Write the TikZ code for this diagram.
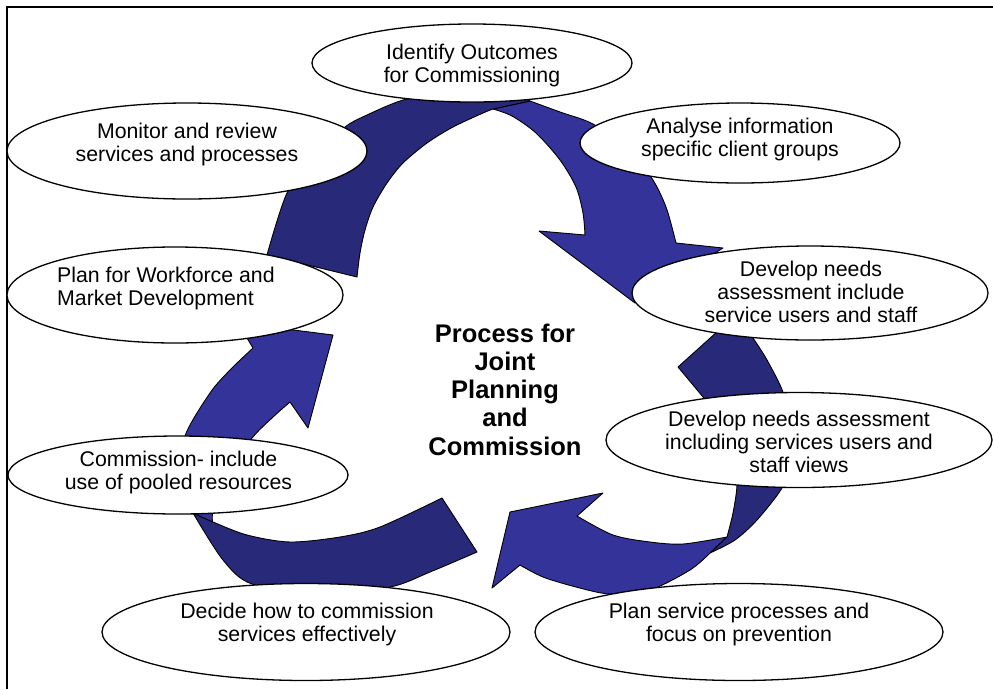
\documentclass[tikz,border=0pt]{standalone}
\usepackage{fontspec}
\setmainfont{Liberation Sans}
\usepackage{tikz}
\usetikzlibrary{shapes}
\definecolor{arrowlight}{RGB}{51,51,153}
\definecolor{arrowdark}{RGB}{41,41,122}
\tikzstyle{bubble} = [ellipse, draw=black, fill=white, line width=1.3pt, inner sep=0]
\tikzstyle{bubbletext} = [align=center, inner sep=0, font=\fontsize{21.3}{23}\selectfont]
\tikzstyle{heading} = [align=center, inner sep=0, font=\fontsize{25.5}{28.3}\selectfont\bfseries]
\tikzstyle{lightface} = [fill=arrowlight, draw=black, line width=0.9pt, line join=round]
\tikzstyle{darkface} = [fill=arrowdark, draw=black, line width=0.9pt, line join=round]

\begin{document}
\begin{tikzpicture}[x=1pt, y=-1pt]
				\useasboundingbox (0, 0) rectangle (993, 689);
				\draw[line width=1.4pt] (7, 689) -- (7, 7) -- (993, 7);

				% top arrow
				\filldraw[lightface] (493, 109) -- (530, 101)
					-- plot[smooth] coordinates {(530, 101) (560, 112) (593, 124) (625, 148) (651, 177) (666, 207) (676, 243)}
					-- (723, 248) -- (635, 303) -- (539, 231)
					-- plot[smooth] coordinates {(585, 235) (583, 213) (576, 187) (560, 160) (536, 133) (512, 116) (493, 109)} -- cycle;
				\filldraw[darkface] (267, 255)
					-- plot[smooth] coordinates {(267, 255) (287, 193) (315, 155) (345, 127) (367, 115) (403, 100) (450, 90) (500, 90)}
					-- (530, 101)
					-- plot[smooth] coordinates {(493, 109) (483, 113) (453, 127) (427, 143) (403, 163) (387, 183) (373, 207) (365, 230) (360, 253) (357, 277)} -- cycle;

				% right arrow
				\filldraw[lightface] (710, 553)
					-- plot[smooth] coordinates {(710, 553) (690, 570) (650, 590) (610, 594) (576, 587) (543, 577) (520, 565)}
					-- (492, 588) -- (510, 512) -- (603, 493)
					-- plot[smooth] coordinates {(577, 516) (613, 535) (650, 542) (683, 544) (727, 537)} -- cycle;
				\filldraw[darkface] (678, 367) -- (728, 322) -- (742, 322)
					-- plot[smooth] coordinates {(742, 322) (753, 338) (767, 360) (783, 392) (793, 430) (791, 462) (782, 488) (757, 520) (735, 540) (710, 553)}
					-- (727, 537)
					-- plot[smooth] coordinates {(727, 537) (733, 513) (737, 485) (735, 455) (722, 420) (703, 397) (678, 367)} -- cycle;

				% left arrow
				\filldraw[lightface] (193, 513)
					-- plot[smooth] coordinates {(193, 513) (183, 475) (185, 436) (210, 393) (230, 370) (253, 348)}
					-- (238, 323) -- (333, 335) -- (308, 428)
					-- plot[smooth] coordinates {(290, 402) (273, 417) (252, 438) (225, 475) (213, 510) (213, 528)} -- cycle;
				\filldraw[darkface] (442, 498) -- (477, 552)
					-- plot[smooth] coordinates {(477, 552) (430, 572) (390, 587) (320, 593) (252, 584) (223, 560) (193, 513)}
					-- plot[smooth] coordinates {(193, 513) (213, 522) (247, 535) (290, 542) (340, 537) (380, 527) (442, 498)} -- cycle;

				\node (Outcomes) [bubble, minimum width=320, minimum height=78] at (472, 63) {};
				\node (OutcomesText) [bubbletext] at (472, 65) {Identify Outcomes\\for Commissioning};

				\node (Analyse) [bubble, minimum width=320, minimum height=80] at (740, 143) {};
				\node (AnalyseText) [bubbletext] at (740, 139) {Analyse information\\specific client groups};

				\node (Needs) [bubble, minimum width=356, minimum height=94] at (810, 293) {};
				\node (NeedsText) [bubbletext] at (811, 292) {Develop needs\\assessment include\\service users and staff};

				\node (NeedsViews) [bubble, minimum width=386, minimum height=95] at (799, 440) {};
				\begin{scope}
					\clip (600, 392) rectangle (990, 472.5);
					\node (NeedsViewsText) [bubbletext] at (799, 442) {Develop needs assessment\\including services users and\\staff views};
				\end{scope}

				\node (Prevention) [bubble, minimum width=408, minimum height=97] at (739, 632) {};
				\node (PreventionText) [bubbletext] at (739, 624) {Plan service processes and\\focus on prevention};

				\node (Decide) [bubble, minimum width=408, minimum height=97] at (306, 632) {};
				\node (DecideText) [bubbletext] at (307, 624) {Decide how to commission\\services effectively};

				\node (Pooled) [bubble, minimum width=340, minimum height=78] at (178, 475) {};
				\node (PooledText) [bubbletext] at (178.5, 472) {Commission- include\\use of pooled resources};

				\node (Workforce) [bubble, minimum width=336, minimum height=96] at (175, 295) {};
				\node (WorkforceText) [bubbletext, align=left, anchor=west] at (57, 288) {Plan for Workforce and\\Market Development};

				\node (Monitor) [bubble, minimum width=360, minimum height=96] at (187, 151) {};
				\node (MonitorText) [bubbletext] at (187, 144) {Monitor and review\\services and processes};

				\node (Title) [heading] at (505, 389.5) {Process for\\Joint\\Planning\\and\\Commission};
\end{tikzpicture}
\end{document}
